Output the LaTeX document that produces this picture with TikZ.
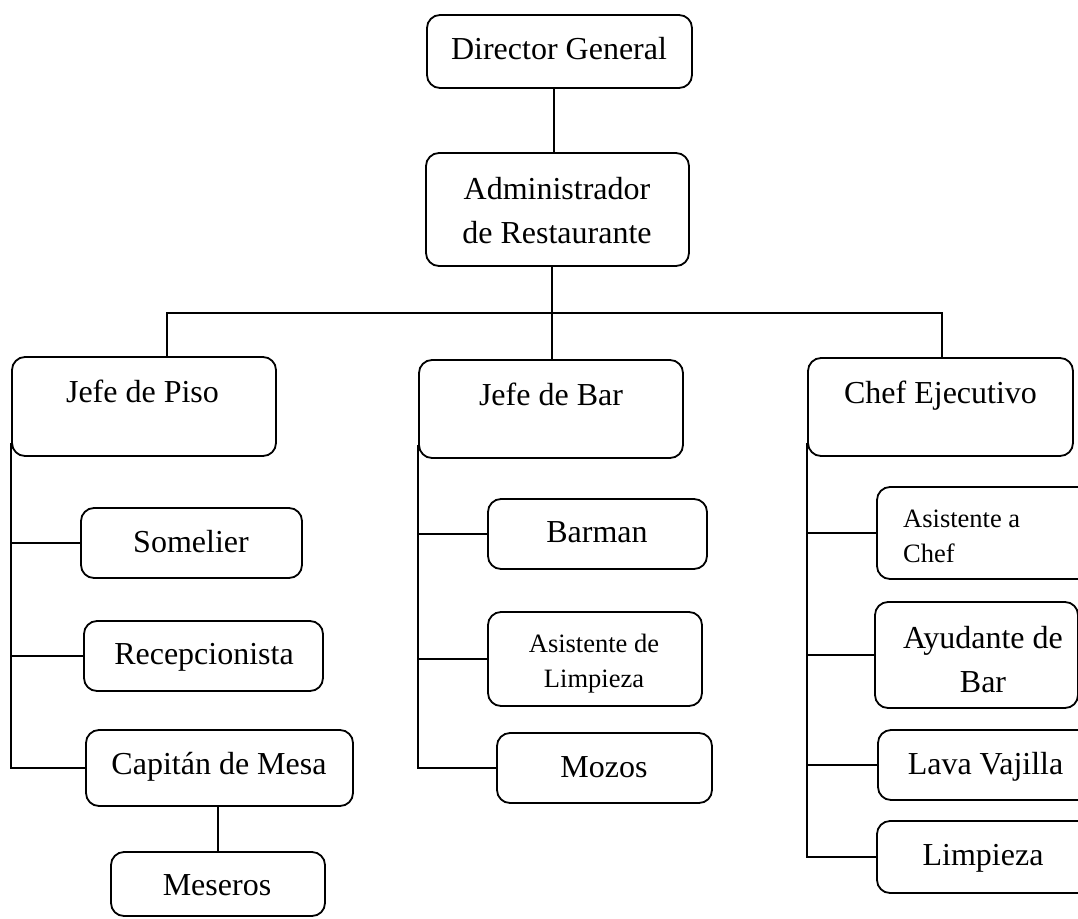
\documentclass[tikz,border=0pt]{standalone}
\usepackage{fontspec}
\setmainfont{Liberation Serif}
\begin{document}
\begin{tikzpicture}[x=1pt,y=-1pt,
  box/.style={draw=black, line width=1.8pt, rounded corners=13pt, inner sep=0pt, fill=none},
  conn/.style={draw=black, line width=1.4pt},
  txt/.style={font=\fontsize{32}{44}\selectfont, inner sep=0pt, anchor=base},
  stxt/.style={font=\fontsize{26.5}{35.5}\selectfont, inner sep=0pt, anchor=base}]
\useasboundingbox (0,0) rectangle (1078,918);
\fill[white] (0,0) rectangle (1078,918);

% boxes
\node[box, minimum width=265, minimum height=73]  (dg)  at (559.5,51.5) {};
\node[box, minimum width=263, minimum height=113] (adm) at (557.5,209.5) {};
\node[box, minimum width=264, minimum height=99]  (jp)  at (144,406.5) {};
\node[box, minimum width=264, minimum height=98]  (jb)  at (551,409) {};
\node[box, minimum width=265, minimum height=98]  (ce)  at (940.5,407) {};
\node[box, minimum width=221, minimum height=70]  (som) at (191.5,543) {};
\node[box, minimum width=239, minimum height=70]  (rec) at (203.5,656) {};
\node[box, minimum width=267, minimum height=76]  (cap) at (219.5,768) {};
\node[box, minimum width=214, minimum height=64]  (mes) at (218,884) {};
\node[box, minimum width=219, minimum height=70]  (bar) at (597.5,534) {};
\node[box, minimum width=214, minimum height=94]  (asl) at (595,659) {};
\node[box, minimum width=215, minimum height=70]  (moz) at (604.5,768) {};
\node[box, minimum width=223, minimum height=92]  (ach) at (988.5,533) {};
\node[box, minimum width=203, minimum height=106] (ayu) at (976.5,655) {};
\node[box, minimum width=222, minimum height=70]  (lav) at (989,765) {};
\node[box, minimum width=223, minimum height=72]  (lim) at (988.5,857) {};

% texts
\node[txt] (tdg) at (559,59) {Director General};
\node[txt] (tadm) at (557,199) {\begin{tabular}[t]{@{}c@{}}Administrador\\de Restaurante\end{tabular}};
\node[txt] (tjp) at (142.5,402) {Jefe de Piso};
\node[txt] (tjb) at (551,405) {Jefe de Bar};
\node[txt] (tce) at (940.5,403) {Chef Ejecutivo};
\node[txt] (tsom) at (191,552) {Somelier};
\node[txt] (trec) at (204,664) {Recepcionista};
\node[txt] (tcap) at (219,774) {Capitán de Mesa};
\node[txt] (tmes) at (217,895) {Meseros};
\node[txt] (tbar) at (597,542) {Barman};
\node[stxt] (tasl) at (594,652) {\begin{tabular}[t]{@{}c@{}}Asistente de\\Limpieza\end{tabular}};
\node[txt] (tmoz) at (604,777) {Mozos};
\node[stxt, anchor=base west] (tach) at (903,527) {\begin{tabular}[t]{@{}l@{}}Asistente a\\Chef\end{tabular}};
\node[txt] (tayu) at (983,648) {\begin{tabular}[t]{@{}c@{}}Ayudante de\\Bar\end{tabular}};
\node[txt] (tlav) at (985.5,774) {Lava Vajilla};
\node[txt] (tlim) at (983,865) {Limpieza};

% connectors
\coordinate (xa) at (554,0);
\coordinate (bus) at (552,313);
\coordinate (jpdrop) at (167,313);
\coordinate (cedrop) at (942,313);
\draw[conn] (dg.south -| xa) -- (adm.north -| xa);
\draw[conn] (adm.south -| bus) -- (jb.north -| bus);
\draw[conn] (jp.north -| jpdrop) -- (jpdrop) -- (cedrop) -- (ce.north -| cedrop);

\draw[conn] ([yshift=14pt]jp.south west) |- (cap.west);
\draw[conn] (som.west) -- (som.west -| jp.west);
\draw[conn] (rec.west) -- (rec.west -| jp.west);
\draw[conn] (mes.north |- cap.south) -- (mes.north);

\draw[conn] ([yshift=14pt]jb.south west) |- (moz.west);
\draw[conn] (bar.west) -- (bar.west -| jb.west);
\draw[conn] (asl.west) -- (asl.west -| jb.west);

\draw[conn] ([yshift=14pt]ce.south west) |- (lim.west);
\draw[conn] (ach.west) -- (ach.west -| ce.west);
\draw[conn] (ayu.west) -- (ayu.west -| ce.west);
\draw[conn] (lav.west) -- (lav.west -| ce.west);
\end{tikzpicture}
\end{document}
